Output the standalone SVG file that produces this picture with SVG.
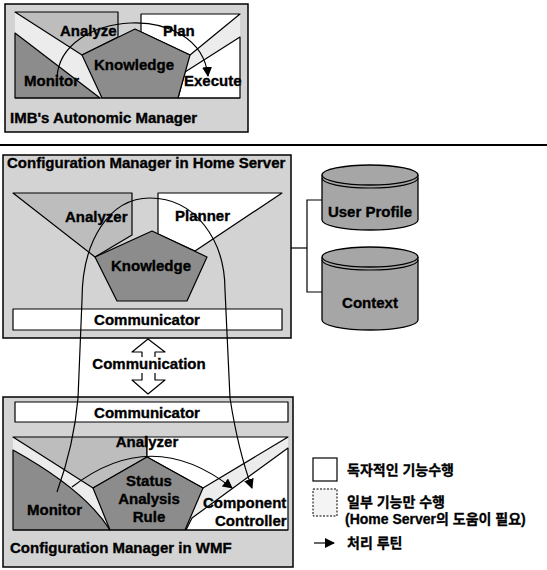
<svg xmlns="http://www.w3.org/2000/svg" width="547" height="570" viewBox="0 0 547 570">
<defs>
<style>
.frame{fill:#d3d3d3;stroke:#000;stroke-width:1.5}
.lite{fill:#bdbdbd;stroke:#000;stroke-width:1.2;stroke-linejoin:round}
.dark{fill:#8c8c8c;stroke:#000;stroke-width:1.2;stroke-linejoin:round}
.white{fill:#fff;stroke:#000;stroke-width:1.2;stroke-linejoin:round}
.band{fill:#ececec;stroke:none}
.ln{fill:none;stroke:#000;stroke-width:1.2}
.cyl{fill:#a6a6a6;stroke:#000;stroke-width:1.3}
.t{font-family:"Liberation Sans",Arial,sans-serif;font-weight:bold;font-size:15px;fill:#000;stroke:#000;stroke-width:0.35}
.c{text-anchor:middle}
.k{font-family:"Liberation Sans","Noto Sans CJK KR",sans-serif;font-weight:bold;font-size:14px;fill:#000;stroke:#000;stroke-width:0.3}
.flow{fill:none;stroke:#000;stroke-width:1.2}
</style>
<marker id="ah" viewBox="0 0 10 10" refX="9" refY="5" markerWidth="10" markerHeight="10" orient="auto" markerUnits="userSpaceOnUse"><path d="M0,0 L10,5 L0,10 z" fill="#000"/></marker>
</defs>
<rect width="547" height="570" fill="#fff"/>

<!-- IBM autonomic manager -->
<g id="ibm-manager">
<rect class="frame" x="5" y="4" width="243" height="128"/>
<polygon class="band" points="15,12 82,55 102,98 15,98"/>
<polygon class="band" points="240,13 190,55 178,98 240,98"/>
<polygon class="lite" points="15,12 118,12 118,37 82,55"/>
<polygon class="white" points="141,14 240,14 190,55 141,32"/>
<polygon class="dark" points="15,33 100,98 15,98"/>
<polygon class="white" points="240,37 185,72 178,98 240,98"/>
<polygon class="dark" points="135,29 190,55 178,98 102,98 82,55"/>
<line class="ln" x1="15" y1="98" x2="240" y2="98"/>
<text class="t" x="60" y="36">Analyze</text>
<text class="t" x="163" y="36">Plan</text>
<text class="t c" x="134" y="70">Knowledge</text>
<text class="t" x="24" y="86">Monitor</text>
<text class="t" x="184" y="86">Execute</text>
<text class="t" x="10" y="123">IMB's Autonomic Manager</text>
</g>

<line x1="0" y1="145" x2="547" y2="145" stroke="#000" stroke-width="2"/>

<!-- Home server -->
<g id="home-server">
<rect class="frame" x="3" y="155" width="288" height="183"/>
<text class="t" x="7" y="168">Configuration Manager in Home Server</text>
<polygon class="lite" points="13,193 132,193 132,235 95,257"/>
<polygon class="white" points="158,193 282,193 195,251 158,234"/>
<polygon class="dark" points="152,231 207,257 187,301 117,301 95,257"/>
<text class="t" x="65" y="222">Analyzer</text>
<text class="t" x="175" y="221">Planner</text>
<text class="t c" x="151" y="271">Knowledge</text>
<rect class="white" x="13" y="309" width="269" height="21"/>
<text class="t c" x="147" y="325">Communicator</text>
</g>

<!-- Communication arrows -->
<g id="communication">
<polyline class="white" points="142,357 142,352 132,352 148,339 165,352 155,352 155,357"/>
<text class="t c" x="149" y="369">Communication</text>
<polyline class="white" points="142,373 142,380 132,380 148,394 165,380 155,380 155,373"/>
</g>

<!-- Databases -->
<g id="user-profile">
<path class="cyl" d="M322,175 L322,220 A48,10 0 0 0 418,220 L418,175"/>
<ellipse class="cyl" cx="370" cy="175" rx="48" ry="10"/>
<path class="ln" d="M322,178 A48,10 0 0 0 418,178"/>
<text class="t c" x="370" y="217">User Profile</text>
</g>
<g id="context">
<path class="cyl" d="M322,257 L322,320 A48,10 0 0 0 418,320 L418,257"/>
<ellipse class="cyl" cx="370" cy="257" rx="48" ry="10"/>
<path class="ln" d="M322,260 A48,10 0 0 0 418,260"/>
<text class="t c" x="370" y="308">Context</text>
</g>

<!-- WMF -->
<g id="wmf">
<rect class="frame" x="3" y="397" width="290" height="170"/>
<rect class="white" x="15" y="402" width="273" height="20"/>
<text class="t c" x="147" y="418">Communicator</text>
<polygon class="band" points="13,437 93,488 110,530 13,530"/>
<polygon class="band" points="288,438 203,488 186,530 288,530"/>
<polygon class="lite" points="13,437 147,437 147,457 93,488"/>
<polygon class="white" points="147,437 288,437 203,488 147,457"/>
<path class="dark" d="M13,450 Q85,490 110,530 L13,530 Z"/>
<polygon class="white" points="288,448 192,518 186,530 288,530"/>
<polygon class="dark" points="147,457 203,488 185,530 110,530 93,488"/>
<line class="ln" x1="13" y1="530" x2="288" y2="530"/>
<text class="t c" x="147" y="447">Analyzer</text>
<text class="t c" x="149" y="486">Status</text>
<text class="t c" x="149" y="504">Analysis</text>
<text class="t c" x="149" y="522">Rule</text>
<text class="t" x="27" y="515">Monitor</text>
<text class="t" x="203" y="508">Component</text>
<text class="t" x="215" y="526">Controller</text>
<text class="t" x="10" y="553">Configuration Manager in WMF</text>
</g>

<!-- Legend -->
<g id="legend">
<rect x="313" y="458" width="24" height="23" fill="#fff" stroke="#000" stroke-width="1.2"/>
<text class="k" x="347" y="475">독자적인 기능수행</text>
<rect x="313" y="489" width="24" height="27" fill="#f4f4f4" stroke="#000" stroke-width="1" stroke-dasharray="2,1.5"/>
<text class="k" x="347" y="507">일부 기능만 수행</text>
<text class="k" x="345" y="524">(Home Server의 도움이 필요)</text>
<line class="flow" x1="314" y1="543" x2="334" y2="543" marker-end="url(#ah)"/>
<text class="k" x="347" y="548">처리 루틴</text>
</g>

<!-- Connectors -->
<g id="connectors">
<path class="flow" d="M57,78 C60,10 200,0 208,76" marker-end="url(#ah)"/>
<path class="flow" d="M57,492 Q74,445 78,398 L82,300 C82,240 110,198 150,198 C195,198 225,240 225,290 L230,398 Q238,450 252,488" marker-end="url(#ah)"/>
<path class="flow" d="M72,487 Q152,425 232,488" marker-end="url(#ah)"/>
<polyline class="ln" points="291,248 307,248"/>
<polyline class="ln" points="322,200 307,200 307,292 322,292"/>
</g>
</svg>
